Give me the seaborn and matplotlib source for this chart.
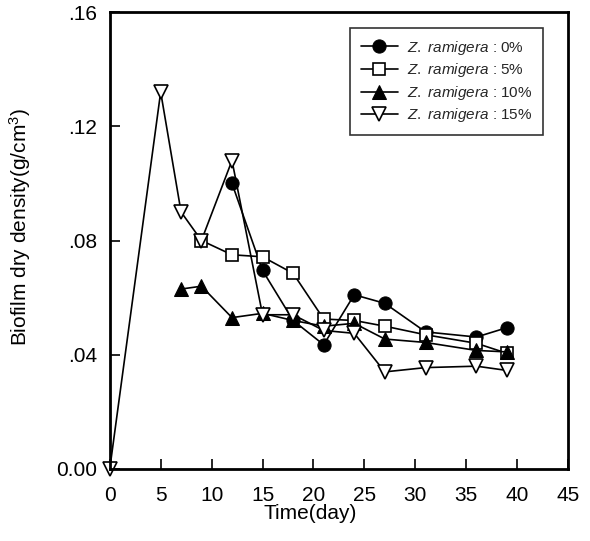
import matplotlib
matplotlib.use("Agg")
import matplotlib.pyplot as plt
import seaborn as sns
import pandas as pd

sns.set_theme(style="white")
plt.rcParams['font.family'] = ['Liberation Sans', 'DejaVu Sans']
plt.rcParams['mathtext.fontset'] = 'custom'
plt.rcParams['mathtext.it'] = 'Liberation Sans:italic'
plt.rcParams['mathtext.rm'] = 'Liberation Sans'

# Data
days_0 = [12, 15, 18, 21, 24, 27, 31, 36, 39]
dens_0 = [0.100, 0.0695, 0.052, 0.0435, 0.061, 0.058, 0.048, 0.0462, 0.0495]

days_5 = [9, 12, 15, 18, 21, 24, 27, 31, 36, 39]
dens_5 = [0.080, 0.075, 0.0743, 0.0685, 0.0525, 0.052, 0.050, 0.047, 0.044, 0.0405]

days_10 = [7, 9, 12, 15, 18, 21, 24, 27, 31, 36, 39]
dens_10 = [0.063, 0.064, 0.053, 0.0545, 0.052, 0.050, 0.051, 0.0455, 0.0443, 0.0415, 0.041]

days_15 = [0, 5, 7, 9, 12, 15, 18, 21, 24, 27, 31, 36, 39]
dens_15 = [0.0, 0.132, 0.090, 0.080, 0.108, 0.054, 0.054, 0.0485, 0.0475, 0.034, 0.0355, 0.036, 0.0345]

labels = [r"$\it{Z.\ ramigera}$ : 0%", r"$\it{Z.\ ramigera}$ : 5%",
          r"$\it{Z.\ ramigera}$ : 10%", r"$\it{Z.\ ramigera}$ : 15%"]

x_ticks = [0, 5, 10, 15, 20, 25, 30, 35, 40, 45]
y_ticks = [0.0, 0.04, 0.08, 0.12, 0.16]
y_ticklabels = ["0.00", ".04", ".08", ".12", ".16"]

fig = plt.figure(figsize=(5.9, 5.41), dpi=100)
ax = fig.add_axes([0.186, 0.1331, 0.777, 0.8447])

series = [
    (days_0, dens_0, labels[0], dict(marker='o', markerfacecolor='black', markeredgecolor='black', markersize=9.5)),
    (days_5, dens_5, labels[1], dict(marker='s', markerfacecolor='white', markeredgecolor='black', markersize=9, markeredgewidth=1.2)),
    (days_10, dens_10, labels[2], dict(marker='^', markerfacecolor='black', markeredgecolor='black', markersize=9.5)),
    (days_15, dens_15, labels[3], dict(marker='v', markerfacecolor='white', markeredgecolor='black', markersize=10, markeredgewidth=1.2)),
]
for xs, ys, lab, st in series:
    df = pd.DataFrame({"day": xs, "dens": ys})
    sns.lineplot(data=df, x="day", y="dens", ax=ax, color='black', linewidth=1.2,
                 label=lab, clip_on=False, **st)

ax.set_xlim(0, 45)
ax.set_ylim(0, 0.16)
ax.set_xticks(x_ticks)
ax.set_xticklabels([str(t) for t in x_ticks])
ax.set_yticks(y_ticks)
ax.set_yticklabels(y_ticklabels)
ax.tick_params(direction='in', length=7, width=1.2, labelsize=15, colors='black',
               bottom=True, left=True, top=False, right=False)
ax.tick_params(axis='x', pad=12)
ax.tick_params(axis='y', pad=9)
for s in ax.spines.values():
    s.set_color('black')
    s.set_linewidth(2)
ax.set_xlabel("Time(day)", fontsize=15, color='black')
ax.set_ylabel("Biofilm dry density(g/cm$^3$)", fontsize=15, color='black')
ax.xaxis.set_label_coords(0.437, -0.076)
ax.yaxis.set_label_coords(-0.168, 0.53)

leg = ax.legend(loc='upper right', bbox_to_anchor=(0.945, 0.965), fontsize=11,
                frameon=True, fancybox=False, edgecolor='black', handlelength=2.4,
                borderpad=0.7, labelspacing=0.3, handletextpad=0.6, borderaxespad=0)
leg.get_frame().set_linewidth(1.2)

fig.savefig("out.png", dpi=100)
